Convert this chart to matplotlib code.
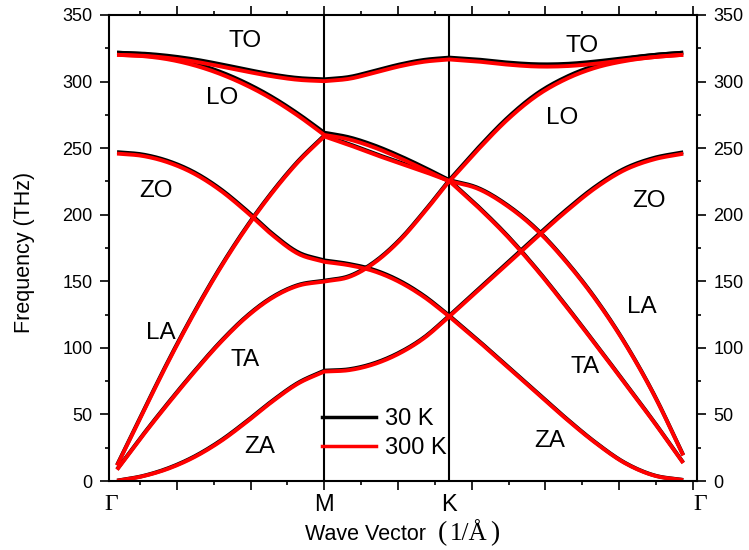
import numpy as np
import matplotlib
matplotlib.use("Agg")
import matplotlib.pyplot as plt
from matplotlib.lines import Line2D
from matplotlib.ticker import MultipleLocator, NullFormatter
import matplotlib.transforms as mtransforms

plt.rcParams["font.family"] = ["Liberation Sans", "DejaVu Sans"]

# ---- path through the Brillouin zone ----
sym_pos = [0.094, 1.5, 2.348, 3.935]
sym_labels = ["Γ", "M", "K", "Γ"]

q_GM = [0.094, 0.270, 0.445, 0.621, 0.797, 0.973, 1.149, 1.324, 1.500]
q_MK = [1.500, 1.670, 1.839, 2.009, 2.178, 2.348]
q_KG = [2.348, 2.546, 2.745, 2.943, 3.142, 3.340, 3.538, 3.737, 3.935]

# ---- phonon frequencies (THz), 30 K ----
# each branch: values on Γ-M, M-K, K-Γ (end points shared)
TO_30 = [[321.7, 321.0, 319.3, 316.6, 313.0, 309.0, 305.3, 302.7, 301.7],
         [301.7, 303.5, 308.0, 312.8, 316.3, 318.0],
         [318.0, 316.5, 314.3, 313.0, 313.3, 315.1, 317.7, 320.0, 321.7]]
LO_30 = [[321.7, 320.7, 318.2, 313.7, 307.2, 298.7, 288.2, 275.7, 261.6],
         [261.6, 258.1, 252.1, 244.3, 235.5, 226.0],
         [226.0, 250.5, 273.0, 291.0, 303.5, 312.0, 317.0, 320.0, 321.7]]
ZO_30 = [[247.0, 245.2, 240.2, 231.7, 219.2, 203.2, 185.7, 171.7, 165.7],
         [165.7, 163.0, 158.5, 150.5, 139.0, 124.2],
         [124.2, 144.2, 164.2, 184.2, 203.7, 221.2, 234.7, 242.7, 246.9]]
LA_30 = [[12.0, 52.0, 91.0, 127.5, 161.0, 191.0, 217.5, 240.5, 259.5],
         [259.5, 253.0, 246.0, 239.5, 233.0, 226.0],
         [226.0, 220.0, 207.0, 189.0, 165.0, 137.0, 104.0, 65.0, 19.5]]
TA_30 = [[8.8, 34.8, 59.3, 82.8, 104.8, 123.8, 138.3, 147.3, 150.5],
         [150.5, 154.0, 164.5, 181.0, 202.5, 226.0],
         [226.0, 206.0, 184.0, 159.0, 131.5, 103.0, 74.0, 44.5, 13.8]]
ZA_30 = [[0.3, 3.8, 9.8, 18.6, 30.4, 44.9, 60.4, 73.9, 82.9],
         [82.9, 84.0, 88.5, 96.5, 108.0, 124.2],
         [124.2, 105.5, 86.0, 66.5, 47.0, 29.0, 13.8, 4.3, 0.8]]

# ---- phonon frequencies (THz), 300 K ----
TO_300 = [[320.1, 319.4, 317.7, 315.0, 311.4, 307.5, 303.9, 301.3, 300.3],
          [300.3, 302.1, 306.6, 311.4, 314.9, 316.6],
          [316.6, 315.0, 312.7, 311.3, 311.6, 313.4, 316.1, 318.4, 320.1]]
LO_300 = [[320.1, 319.1, 316.6, 312.1, 305.6, 297.1, 286.7, 274.2, 259.9],
          [259.9, 256.5, 250.5, 242.7, 234.0, 225.0],
          [225.0, 249.2, 271.6, 289.5, 302.0, 310.4, 315.4, 318.4, 320.1]]
ZO_300 = [[245.9, 244.1, 239.1, 230.6, 218.1, 202.1, 184.6, 170.6, 164.6],
          [164.6, 162.0, 157.5, 149.5, 138.1, 123.5],
          [123.5, 143.3, 163.2, 183.2, 202.6, 220.1, 233.6, 241.6, 245.8]]
LA_300 = [[11.6, 51.4, 90.3, 126.8, 160.3, 190.3, 216.8, 239.8, 258.8],
          [258.8, 252.3, 245.3, 238.8, 232.3, 225.3],
          [225.3, 219.3, 206.3, 188.3, 164.4, 136.4, 103.5, 64.6, 19.2]]
TA_300 = [[8.5, 34.3, 58.7, 82.2, 104.2, 123.2, 137.7, 146.7, 149.8],
          [149.8, 153.3, 163.8, 180.3, 201.8, 225.3],
          [225.3, 205.3, 183.3, 158.4, 130.9, 102.5, 73.5, 44.1, 13.5]]
ZA_300 = [[0.2, 3.6, 9.4, 18.1, 29.8, 44.3, 59.8, 73.3, 82.2],
          [82.2, 83.3, 87.8, 95.8, 107.4, 123.5],
          [123.5, 104.9, 85.4, 66.0, 46.5, 28.6, 13.5, 4.1, 0.7]]

branches_30 = [TO_30, LO_30, ZO_30, LA_30, TA_30, ZA_30]
branches_300 = [TO_300, LO_300, ZO_300, LA_300, TA_300, ZA_300]

# mode labels and where they sit (q, THz)
mode_names = ["TO", "LO", "ZO", "LA", "TA", "ZA",
              "TO", "LO", "ZO", "LA", "TA", "ZA"]
mode_q = [0.962, 0.804, 0.358, 0.392, 0.962, 1.059,
          3.246, 3.115, 3.703, 3.653, 3.269, 3.031]
mode_f = [330.7, 287.4, 218.0, 111.4, 90.9, 25.8,
          326.7, 272.4, 210.3, 130.5, 85.8, 30.0]

temps = ["30 K", "300 K"]
colors = ["black", "#ff0000"]


def spline(q, f, n=14):
    """Catmull-Rom curve through the sampled points of one leg."""
    P = np.column_stack([q, f]).astype(float)
    P = np.vstack([2 * P[0] - P[1], P, 2 * P[-1] - P[-2]])
    t = np.linspace(0, 1, n, endpoint=False)[:, None]
    out = []
    for i in range(1, len(P) - 2):
        p0, p1, p2, p3 = P[i - 1], P[i], P[i + 1], P[i + 2]
        out.append(0.5 * (2 * p1 + (-p0 + p2) * t
                          + (2 * p0 - 5 * p1 + 4 * p2 - p3) * t ** 2
                          + (-p0 + 3 * p1 - 3 * p2 + p3) * t ** 3))
    out.append(P[-2][None])
    return np.vstack(out)


def branch_curve(legs):
    pieces = [spline(q, f) for q, f in zip((q_GM, q_MK, q_KG), legs)]
    return np.vstack(pieces)


fig = plt.figure(figsize=(7.49, 5.5), dpi=100)
ax = fig.add_axes([0.1459, 0.12545, 0.7843, 0.8473])

for xv in sym_pos[1:3]:
    ax.axvline(xv, color="black", lw=1.5, zorder=1)

for branches, c in zip((branches_30, branches_300), colors):
    for legs in branches:
        pts = branch_curve(legs)
        ax.plot(pts[:, 0], pts[:, 1], color=c, lw=2.8,
                solid_capstyle="butt", solid_joinstyle="round", zorder=2)

for name, qx, fy in zip(mode_names, mode_q, mode_f):
    ax.text(qx, fy, name, fontsize=17.5, ha="center", va="center", zorder=3)

ax.set_xlim(0.0414, 4.0265)
ax.set_ylim(0, 350)

ax.xaxis.set_major_locator(MultipleLocator(0.5))
ax.xaxis.set_minor_locator(MultipleLocator(0.25))
ax.xaxis.set_major_formatter(NullFormatter())
ax.yaxis.set_major_locator(MultipleLocator(50))
ax.yaxis.set_minor_locator(MultipleLocator(25))

ax.tick_params(which="both", direction="out", top=True, right=True,
               labelright=True, labelsize=13, width=1.2, pad=5.5)
ax.tick_params(which="major", length=6.5)
ax.tick_params(which="minor", length=3.2)
for s in ax.spines.values():
    s.set_linewidth(1.5)

# high-symmetry point labels under the axis
trans = mtransforms.blended_transform_factory(ax.transData, ax.transAxes)
lab_x = [ax.get_xlim()[0] + 0.012, sym_pos[1], sym_pos[2], ax.get_xlim()[1] + 0.025]
for lx, lab in zip(lab_x, sym_labels):
    if lab == "Γ":
        ax.text(lx, -0.051, lab, transform=trans, ha="center", va="center",
                fontsize=17, family=["Liberation Serif", "DejaVu Serif"])
    else:
        ax.text(lx, -0.051, lab, transform=trans, ha="center", va="center",
                fontsize=17)

# x-axis title: sans words followed by a serif unit
W, H = 749.0, 550.0
base_y = 1 - 540 / H
serif = ["Liberation Serif", "DejaVu Serif"]
fig.text(305 / W, base_y, "Wave Vector", ha="left", va="baseline", fontsize=15.5)
fig.text(442 / W, base_y, "(", ha="center", va="baseline", fontsize=20, family=serif)
fig.text(468.5 / W, base_y, "1/Å", ha="center", va="baseline", fontsize=18, family=serif)
fig.text(495 / W, base_y, ")", ha="center", va="baseline", fontsize=20, family=serif)

fig.text(25 / W, 1 - 252 / H, "Frequency (THz)", rotation=90,
         ha="center", va="center", fontsize=15.5)

handles = [Line2D([], [], color=c, lw=2.5) for c in colors]
ax.legend(handles, temps, loc="upper left", bbox_to_anchor=(1.484, 55),
          bbox_transform=ax.transData, frameon=False, borderpad=0,
          borderaxespad=0, handlelength=2.3, handletextpad=0.35,
          labelspacing=0.3, fontsize=17)

fig.savefig("out.png", dpi=100)
